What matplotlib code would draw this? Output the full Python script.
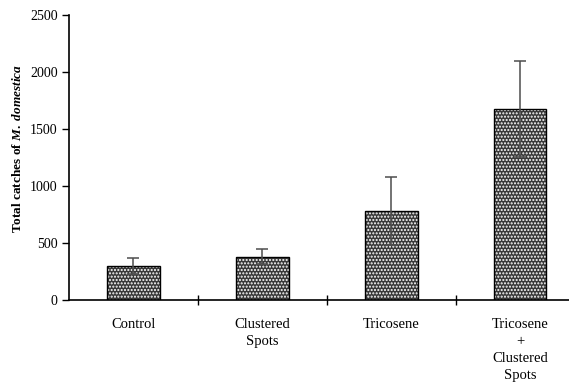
import matplotlib.pyplot as plt
import numpy as np

# data
categories = ['Control', 'Clustered\nSpots', 'Tricosene', 'Tricosene\n+\nClustered\nSpots']
catches = [298, 380, 780, 1670]
errors = [68, 65, 295, 420]

plt.rcParams['font.family'] = 'Liberation Serif'
plt.rcParams['mathtext.fontset'] = 'custom'
plt.rcParams['mathtext.it'] = 'Liberation Serif:italic:bold'
plt.rcParams['mathtext.rm'] = 'Liberation Serif:bold'
plt.rcParams['hatch.linewidth'] = 1.0

fig = plt.figure(figsize=(5.69, 3.85), dpi=100)
ax = fig.add_axes([0.121, 0.221, 0.879, 0.741])

x = np.arange(len(categories))
# stippled fill then black outline
ax.bar(x, catches, width=0.41, color='0.22', hatch='.....', edgecolor='white', linewidth=0, zorder=2)
ax.bar(x, catches, width=0.41, fill=False, edgecolor='black', linewidth=1.0, zorder=3)
ax.errorbar(x, catches, yerr=errors, fmt='none', ecolor='0.3', elinewidth=1.1,
            capsize=4, capthick=1.1, zorder=4)

ax.set_xlim(-0.5, 3.38)
ax.set_ylim(0, 2500)
ax.set_yticks(np.arange(0, 2501, 500))
ax.tick_params(axis='y', direction='out', length=5, width=1, labelsize=10, pad=3)

# category labels at bar centres, ticks at the boundaries
ax.set_xticks(x[:-1] + 0.5)
ax.set_xticklabels([])
ax.tick_params(axis='x', direction='inout', length=7, width=1)
for xi, lab in zip(x, categories):
    ax.text(xi, -160, lab, ha='center', va='top', fontsize=10.5, linespacing=1.38)

ax.spines['top'].set_visible(False)
ax.spines['right'].set_visible(False)
ax.spines['left'].set_linewidth(1.2)
ax.spines['bottom'].set_linewidth(1.2)

ax.set_ylabel(r'Total catches of $M.\ domestica$', fontsize=9.5, fontweight='bold')
ax.yaxis.set_label_coords(-0.09, 0.53)

fig.savefig('out.png', dpi=100)
